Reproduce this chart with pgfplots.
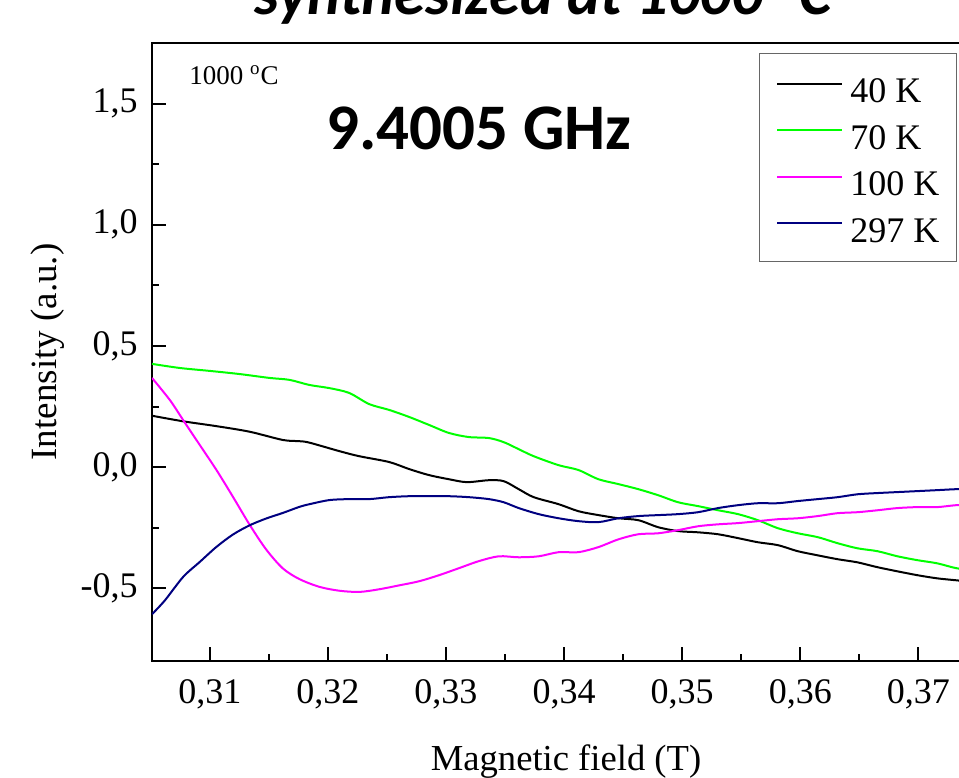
\documentclass[border=0pt]{standalone}
\usepackage{fontspec}
\setmainfont{Liberation Serif}
\newfontfamily\calibri{Carlito}
\usepackage{pgfplots}
\pgfplotsset{compat=1.18}

\definecolor{cGreen}{RGB}{0,255,0}
\definecolor{cMag}{RGB}{255,0,255}
\definecolor{cNavy}{RGB}{0,0,128}

\begin{document}
\begin{tikzpicture}
\useasboundingbox (-76pt,-58pt) rectangle (403.5pt,330.5pt);
\clip (-76pt,-58pt) rectangle (403.5pt,330.5pt);
\begin{axis}[
  scale only axis, width=408pt, height=309pt,
  xmin=0.30511, xmax=0.3742, ymin=-0.8, ymax=1.75,
  axis line style={line width=1.2pt},
  tick style={line width=1pt, black},
  tick align=inside, xtick pos=bottom, ytick pos=left,
  major tick length=7pt, minor tick length=3.5pt,
  xtick={0.31,0.32,0.33,0.34,0.35,0.36,0.37},
  xticklabels={{0,31},{0,32},{0,33},{0,34},{0,35},{0,36},{0,37}},
  ytick={-0.5,0,0.5,1,1.5},
  yticklabels={{-0,5},{0,0},{0,5},{1,0},{1,5}},
  minor x tick num=1, minor y tick num=1,
  ticklabel style={font=\fontsize{18}{21}\selectfont},
  xticklabel style={anchor=north, inner sep=0pt, yshift=-9pt},
  yticklabel style={anchor=east, inner sep=0pt, xshift=-7pt},
  xlabel={Magnetic field (T)},
  xlabel style={font=\fontsize{18.3}{21}\selectfont, at={(axis description cs:0.5074,-0.1764)}, anchor=base},
  ylabel={Intensity (a.u.)},
  ylabel style={font=\fontsize{18.5}{21}\selectfont, at={(axis description cs:-0.1275,0.5)}, anchor=center},
  legend cell align=left,
  legend image code/.code={\draw[#1] (0pt,2pt) -- (32.5pt,2pt);},
  legend style={at={(0.9865,0.9838)}, anchor=north east,
    draw=gray!80!black, line width=0.5pt,
    font=\fontsize{18}{21}\selectfont,
    inner xsep=8.5pt, inner ysep=9pt, row sep=7.25pt,
    nodes={inner sep=0pt, text height=15.5pt, text depth=0.5pt, anchor=west},
    /tikz/every odd column/.style={column sep=3.5pt}},
  every axis plot/.append style={line width=1pt, smooth, tension=0.5, no markers},
]
\addplot[black] coordinates {
(0.30511,0.212) (0.30775,0.189) (0.31057,0.169) (0.31338,0.146) (0.31619,0.112)
(0.31759,0.107) (0.31844,0.101) (0.32097,0.066) (0.32266,0.045) (0.32519,0.021)
(0.32688,-0.008) (0.32857,-0.033) (0.33025,-0.050) (0.33177,-0.062) (0.33363,-0.054)
(0.33489,-0.058) (0.33616,-0.091) (0.33743,-0.124) (0.33954,-0.153) (0.34122,-0.182)
(0.34291,-0.198) (0.34460,-0.211) (0.34629,-0.219) (0.34797,-0.248) (0.34966,-0.264)
(0.35135,-0.269) (0.35304,-0.277) (0.35473,-0.293) (0.35641,-0.310) (0.35810,-0.322)
(0.35979,-0.347) (0.36148,-0.364) (0.36316,-0.380) (0.36485,-0.393) (0.36654,-0.413)
(0.36823,-0.430) (0.36992,-0.446) (0.37160,-0.459) (0.37321,-0.467) (0.37500,-0.476)
};
\addlegendentry{40 K}
\addplot[cGreen] coordinates {
(0.30511,0.426) (0.30747,0.409) (0.31000,0.397) (0.31253,0.384) (0.31506,0.368)
(0.31675,0.360) (0.31844,0.339) (0.32013,0.326) (0.32181,0.306) (0.32350,0.260)
(0.32519,0.236) (0.32688,0.207) (0.32857,0.174) (0.33025,0.141) (0.33194,0.124)
(0.33363,0.120) (0.33489,0.103) (0.33616,0.074) (0.33743,0.045) (0.33954,0.008)
(0.34122,-0.012) (0.34291,-0.050) (0.34460,-0.070) (0.34629,-0.091) (0.34797,-0.116)
(0.34966,-0.145) (0.35135,-0.161) (0.35304,-0.178) (0.35473,-0.194) (0.35641,-0.219)
(0.35810,-0.252) (0.35979,-0.273) (0.36148,-0.289) (0.36316,-0.314) (0.36485,-0.335)
(0.36654,-0.347) (0.36823,-0.368) (0.36992,-0.384) (0.37160,-0.397) (0.37321,-0.417)
(0.37500,-0.428)
};
\addlegendentry{70 K}
\addplot[cMag] coordinates {
(0.30511,0.368) (0.30662,0.277) (0.30775,0.194) (0.30916,0.091) (0.31057,-0.012)
(0.31197,-0.123) (0.31338,-0.238) (0.31478,-0.340) (0.31619,-0.418) (0.31759,-0.462)
(0.31928,-0.494) (0.32097,-0.510) (0.32266,-0.515) (0.32435,-0.504) (0.32603,-0.488)
(0.32772,-0.471) (0.32941,-0.446) (0.33110,-0.417) (0.33278,-0.388) (0.33447,-0.368)
(0.33616,-0.372) (0.33785,-0.368) (0.33954,-0.351) (0.34122,-0.351) (0.34291,-0.330)
(0.34460,-0.298) (0.34629,-0.277) (0.34797,-0.273) (0.34966,-0.260) (0.35135,-0.244)
(0.35304,-0.236) (0.35473,-0.231) (0.35641,-0.223) (0.35810,-0.215) (0.35979,-0.211)
(0.36148,-0.202) (0.36316,-0.190) (0.36485,-0.186) (0.36654,-0.178) (0.36823,-0.169)
(0.36992,-0.165) (0.37160,-0.165) (0.37321,-0.157) (0.37500,-0.154)
};
\addlegendentry{100 K}
\addplot[cNavy] coordinates {
(0.30511,-0.607) (0.30620,-0.550) (0.30775,-0.453) (0.30916,-0.391) (0.31057,-0.329)
(0.31197,-0.278) (0.31338,-0.240) (0.31478,-0.212) (0.31619,-0.189) (0.31759,-0.164)
(0.31844,-0.153) (0.32013,-0.136) (0.32181,-0.132) (0.32350,-0.132) (0.32519,-0.124)
(0.32688,-0.120) (0.32857,-0.120) (0.33025,-0.120) (0.33194,-0.124) (0.33363,-0.132)
(0.33489,-0.145) (0.33616,-0.169) (0.33785,-0.194) (0.33954,-0.211) (0.34122,-0.223)
(0.34291,-0.227) (0.34460,-0.211) (0.34629,-0.202) (0.34797,-0.198) (0.34966,-0.194)
(0.35135,-0.186) (0.35304,-0.169) (0.35473,-0.157) (0.35641,-0.149) (0.35810,-0.149)
(0.35979,-0.140) (0.36148,-0.132) (0.36316,-0.124) (0.36485,-0.112) (0.36654,-0.107)
(0.36823,-0.103) (0.36992,-0.099) (0.37160,-0.095) (0.37321,-0.091) (0.37500,-0.089)
};
\addlegendentry{297 K}
\end{axis}
\node[anchor=base, font=\calibri\bfseries\itshape\fontsize{31.3}{36}\selectfont] at (195.5pt,323pt) {synthesized at 1000 °C};
\node[anchor=base, font=\calibri\bfseries\fontsize{32.5}{36}\selectfont] at (163.5pt,255.5pt) {9.4005 GHz};
\node[anchor=base west, inner sep=0pt, font=\fontsize{13.5}{16}\selectfont] at (18.5pt,288pt) {1000 \textsuperscript{o}C};
\end{tikzpicture}
\end{document}
